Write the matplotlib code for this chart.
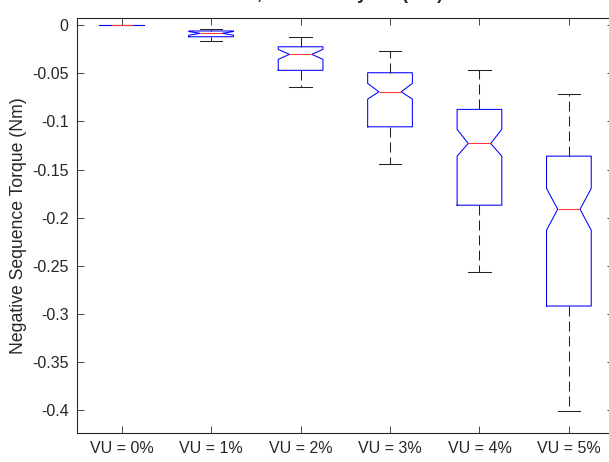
import numpy as np
import matplotlib
matplotlib.use("Agg")
import matplotlib.pyplot as plt

plt.rcParams['font.family'] = ['Liberation Sans', 'DejaVu Sans']

# values (Nm)
labels = ["VU = 0%", "VU = 1%", "VU = 2%", "VU = 3%", "VU = 4%", "VU = 5%"]
whishi = [0.0, -0.0036, -0.0120, -0.0265, -0.0463, -0.0719]
q3     = [0.0, -0.0060, -0.0224, -0.0494, -0.0875, -0.1361]
cihi   = [0.0, -0.0066, -0.0251, -0.0605, -0.1083, -0.1697]
med    = [0.0, -0.0084, -0.0303, -0.0692, -0.1229, -0.1913]
cilo   = [0.0, -0.0104, -0.0355, -0.0768, -0.1361, -0.2131]
q1     = [0.0, -0.0120, -0.0469, -0.1056, -0.1871, -0.2919]
whislo = [0.0, -0.0168, -0.0646, -0.1447, -0.2568, -0.4015]

stats = []
for i in range(len(labels)):
	stats.append(dict(label=labels[i], whishi=whishi[i], q3=q3[i], cihi=cihi[i],
					  med=med[i], cilo=cilo[i], q1=q1[i], whislo=whislo[i], fliers=[]))

fig = plt.figure(figsize=(6.09, 4.62), dpi=100)
ax = fig.add_axes([77/609, 1 - 433/462, (613.6 - 77)/609, (433 - 18)/462])

lw = 0.75
ax.bxp(stats, positions=np.arange(1, 7), widths=0.5, capwidths=0.25,
	   shownotches=True, showfliers=False,
	   boxprops=dict(color='#0000ff', linewidth=lw),
	   medianprops=dict(color='#ff3333', linewidth=lw),
	   whiskerprops=dict(color='#222222', linewidth=lw, linestyle=(0, (9.6, 4.8))),
	   capprops=dict(color='#222222', linewidth=lw))

ax.set_xlim(0.5, 6.5)
ax.set_ylim(-0.4239, 0.0075)
ax.set_yticks(np.arange(-0.4, 0.001, 0.05))
ax.set_yticklabels(["-0.4", "-0.35", "-0.3", "-0.25", "-0.2", "-0.15", "-0.1", "-0.05", "0"])
ax.set_xticks(np.arange(1, 7))
ax.set_xticklabels(labels)

txt = '#262626'
ax.tick_params(direction='in', length=5, width=0.6, colors=txt, labelsize=11.5,
			   top=True, right=True, pad=6)
for s in ax.spines.values():
	s.set_color(txt)
	s.set_linewidth(0.8)

ax.set_ylabel("Negative Sequence Torque (Nm)", fontsize=12.7, color=txt)
ax.yaxis.set_label_coords(-0.093, 0.5)

# title sits above the visible area in the reference, only descenders show
fig.text(345/609, 1 - 3/462, "T, Variance by VU (Nm)", ha='center', va='bottom',
		 fontsize=13, fontweight='bold', color=txt)

fig.savefig("out.png", dpi=100)
